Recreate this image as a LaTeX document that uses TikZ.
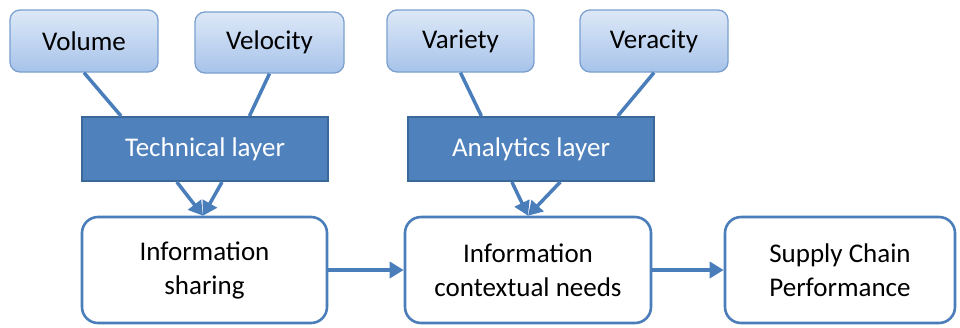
\documentclass[tikz,border=0pt]{standalone}
\usepackage{fontspec}
\setmainfont{Carlito}
\usetikzlibrary{arrows.meta,calc}
\definecolor{lnblue}{HTML}{4A7EBB}
\definecolor{layerfill}{HTML}{4F81BD}
\definecolor{layerdraw}{HTML}{3A6899}
\definecolor{topbord}{HTML}{7BA0CF}
\definecolor{toptop}{HTML}{DDE8F7}
\definecolor{topbot}{HTML}{A7C3EA}
\begin{document}
\begin{tikzpicture}[x=1bp,y=-1bp,
  every node/.style={font=\fontsize{27bp}{34bp}\selectfont, align=center, inner sep=0pt},
  topbox/.style={draw=topbord, line width=1.3bp, rounded corners=10bp, top color=toptop, bottom color=topbot, minimum width=148bp, minimum height=62bp},
  layerbox/.style={draw=layerdraw, line width=2bp, fill=layerfill, text=white, minimum width=245bp, minimum height=64bp},
  infobox/.style={draw=lnblue, line width=2.6bp, rounded corners=16bp, fill=white, minimum height=106bp},
  link/.style={draw=lnblue, line width=3.5bp},
  arr/.style={link, -{Triangle[length=14bp,width=16bp]}}]
\useasboundingbox (0,0) rectangle (960,327);
\node[topbox] (vol) at (84,41) {Volume};
\node[topbox, minimum width=149bp, minimum height=61bp] (vel) at (269.5,42.5) {Velocity};
\node[topbox, minimum width=147bp] (var) at (460.5,41) {Variety};
\node[topbox] (ver) at (654,41) {Veracity};
\node[layerbox] (tech) at (205,149) {Technical layer};
\node[layerbox, minimum width=246bp] (ana) at (531,149) {Analytics layer};
\node[infobox, minimum width=245bp] (share) at (204.5,270) {Information\\sharing};
\node[infobox, minimum width=246bp] (ctx) at (528,270) {Information\\contextual needs};
\node[infobox, minimum width=230bp] (sup) at (840,270) {Supply Chain\\Performance};
\draw[link] (vol.south) -- ($(tech.north west)!0.16!(tech.north east)$);
\draw[link] (vel.south) -- ($(tech.north west)!0.68!(tech.north east)$);
\draw[link] (var.south) -- ($(ana.north west)!0.30!(ana.north east)$);
\draw[link] (ver.south) -- ($(ana.north west)!0.85!(ana.north east)$);
\draw[arr] ($(tech.south west)!0.386!(tech.south east)$) -- ($(share.north west)!0.494!(share.north east)$);
\draw[arr] ($(tech.south west)!0.569!(tech.south east)$) -- ($(share.north west)!0.494!(share.north east)$);
\draw[arr] ($(ana.south west)!0.423!(ana.south east)$) -- ($(ctx.north west)!0.5!(ctx.north east)$);
\draw[arr] ($(ana.south west)!0.618!(ana.south east)$) -- ($(ctx.north west)!0.5!(ctx.north east)$);
\draw[arr] (share.east) -- (ctx.west);
\draw[arr] (ctx.east) -- (sup.west);
\end{tikzpicture}
\end{document}
